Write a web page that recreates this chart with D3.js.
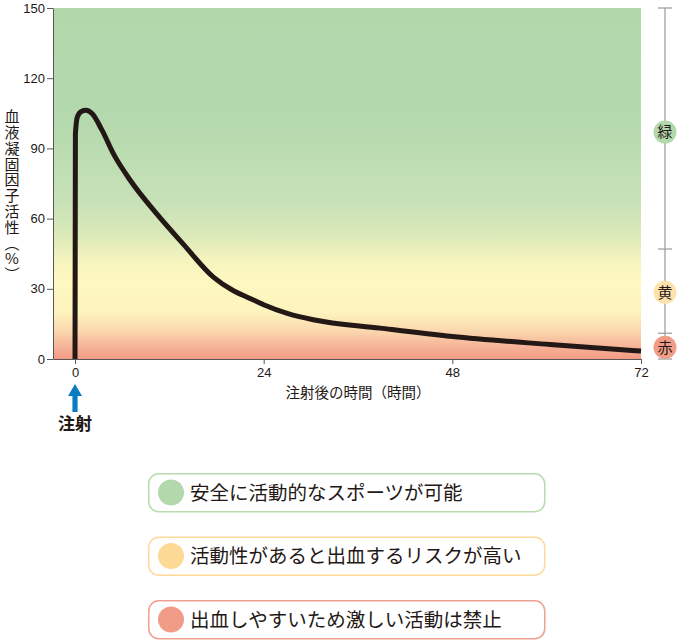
<!DOCTYPE html>
<html>
<head>
<meta charset="utf-8">
<script src="https://cdn.jsdelivr.net/npm/d3@7"></script>
<style>
  body { margin: 0; background: #fff; }
  svg text { font-family: "Noto Sans CJK JP", "Noto Sans", sans-serif; fill: #231815; }
</style>
</head>
<body>
<svg id="chart" width="680" height="643"></svg>
<script>
// curve (hours after injection, factor activity %)
var hours    = [0, 0.05, 0.3, 0.8, 1.4, 2.2, 3.4, 5, 7, 10.4, 13.8, 17.6, 20, 22.2, 24, 27, 30.3, 38.8, 48, 60.4, 72];
var activity = [0, 96, 103.5, 105.8, 106.3, 104.8, 98, 87, 76.5, 62, 49, 35, 29.5, 26, 23.2, 19.5, 16.8, 13.2, 9.6, 6.2, 3.4];

var xTicks = [0, 24, 48, 72];
var yTicks = [0, 30, 60, 90, 120, 150];

// right-hand zone scale
var zoneBreaks = [0, 11, 47, 150];
var zoneNames  = ["緑", "黄", "赤"];
var zoneMid    = [97, 28.5, 5];
var zoneColors = ["#b3d8ac", "#fde2ac", "#f19c86"];

var legendLabels = ["安全に活動的なスポーツが可能", "活動性があると出血するリスクが高い", "出血しやすいため激しい活動は禁止"];
var legendFill   = ["#b3d8ac", "#fdd996", "#f19c86"];
var legendStroke = ["#b8dcae", "#fdd99a", "#f0a090"];

var yTitle = "血液凝固因子活性（%）";

var svg = d3.select("#chart");
var m = { l: 53, r: 641, t: 8, b: 359 };

var x = d3.scaleLinear().domain([-2.8, 72]).range([m.l, m.r]);
var y = d3.scaleLinear().domain([0, 150]).range([m.b, m.t]);

// background gradient (green -> yellow -> red)
var grad = svg.append("defs").append("linearGradient")
    .attr("id", "bg").attr("gradientUnits", "userSpaceOnUse")
    .attr("x1", 0).attr("x2", 0).attr("y1", y(150)).attr("y2", y(0));
var stops = [[150, "#b2d7ab"], [100, "#b5d9ae"], [66, "#c9e2b8"], [52, "#dceab9"], [42, "#f6f4be"], [34, "#fef8c0"], [20, "#fdf3bd"], [13, "#fbdcb0"], [6, "#f6b79b"], [0, "#f29a84"]];
grad.selectAll("stop").data(stops).enter().append("stop")
    .attr("offset", d => (150 - d[0]) / 150)
    .attr("stop-color", d => d[1]);

svg.append("rect")
    .attr("x", m.l).attr("y", m.t)
    .attr("width", m.r - m.l).attr("height", m.b - m.t)
    .attr("fill", "url(#bg)");

// axes
var yAxis = d3.axisLeft(y).tickValues(yTicks).tickSize(6).tickSizeOuter(0).tickPadding(2);
var xAxis = d3.axisBottom(x).tickValues(xTicks).tickSize(5).tickSizeOuter(0).tickPadding(4);

var gy = svg.append("g").attr("transform", "translate(" + m.l + ",0)").call(yAxis);
var gx = svg.append("g").attr("transform", "translate(0," + m.b + ")").call(xAxis);
[gx, gy].forEach(function (g) {
    g.selectAll("path, line").attr("stroke", "#595757").attr("stroke-width", 1);
    g.selectAll("text").style("font-size", "13px").style("font-family", "'Liberation Sans', sans-serif").attr("fill", "#231815");
});

// curve
var line = d3.line()
    .x(d => x(d[0]))
    .y(d => y(d[1]))
    .curve(d3.curveMonotoneX);

svg.append("path")
    .datum(hours.map((h, i) => [h, activity[i]]))
    .attr("d", line)
    .attr("fill", "none")
    .attr("stroke", "#231815")
    .attr("stroke-width", 5)
    .attr("stroke-linejoin", "round");

// axis titles
svg.append("text")
    .attr("x", 358).attr("y", 398)
    .attr("text-anchor", "middle")
    .style("font-size", "14.5px")
    .text("注射後の時間（時間）");

// vertical y title
svg.append("text")
    .attr("x", 12).attr("y", 109)
    .style("writing-mode", "vertical-rl")
    .style("text-orientation", "upright")
    .style("font-size", "15px")
    .style("letter-spacing", "0.8px")
    .text(yTitle);

// injection arrow
var ax = x(0);
svg.append("path")
    .attr("d", "M" + ax + ",384 L" + (ax + 7) + ",396 L" + (ax + 2.6) + ",396 L" + (ax + 2.6) + ",412 L" + (ax - 2.6) + ",412 L" + (ax - 2.6) + ",396 L" + (ax - 7) + ",396 Z")
    .attr("fill", "#0a7cc4");

svg.append("text")
    .attr("x", ax).attr("y", 430)
    .attr("text-anchor", "middle")
    .style("font-size", "17px")
    .style("font-weight", "bold")
    .text("注射");

// right zone scale
var zx = 665;
svg.append("line")
    .attr("x1", zx).attr("x2", zx)
    .attr("y1", y(150)).attr("y2", y(0))
    .attr("stroke", "#9fa0a0").attr("stroke-width", 1.3);
svg.selectAll(".zt").data(zoneBreaks).enter().append("line")
    .attr("x1", zx - 7).attr("x2", zx + 7)
    .attr("y1", d => y(d)).attr("y2", d => y(d))
    .attr("stroke", "#9fa0a0").attr("stroke-width", 1.3);

var zg = svg.selectAll(".zone").data(zoneNames).enter().append("g")
    .attr("transform", (d, i) => "translate(" + zx + "," + y(zoneMid[i]) + ")");
zg.append("circle").attr("r", 11.5).attr("fill", (d, i) => zoneColors[i]);
zg.append("text")
    .attr("text-anchor", "middle").attr("dy", "0.36em")
    .style("font-size", "15px")
    .text(d => d);

// legend
var lg = svg.selectAll(".leg").data(legendLabels).enter().append("g")
    .attr("transform", (d, i) => "translate(148," + (473 + i * 63.5) + ")");
lg.append("rect")
    .attr("x", 0.75).attr("y", 0.75)
    .attr("width", 396).attr("height", 38)
    .attr("rx", 10).attr("ry", 10)
    .attr("fill", "#fff")
    .attr("stroke", (d, i) => legendStroke[i])
    .attr("stroke-width", 1.5);
lg.append("circle")
    .attr("cx", 23).attr("cy", 19.5).attr("r", 13)
    .attr("fill", (d, i) => legendFill[i]);
lg.append("text")
    .attr("x", 42).attr("y", 19.5).attr("dy", "0.36em")
    .style("font-size", "19.5px")
    .text(d => d);
</script>
</body>
</html>
